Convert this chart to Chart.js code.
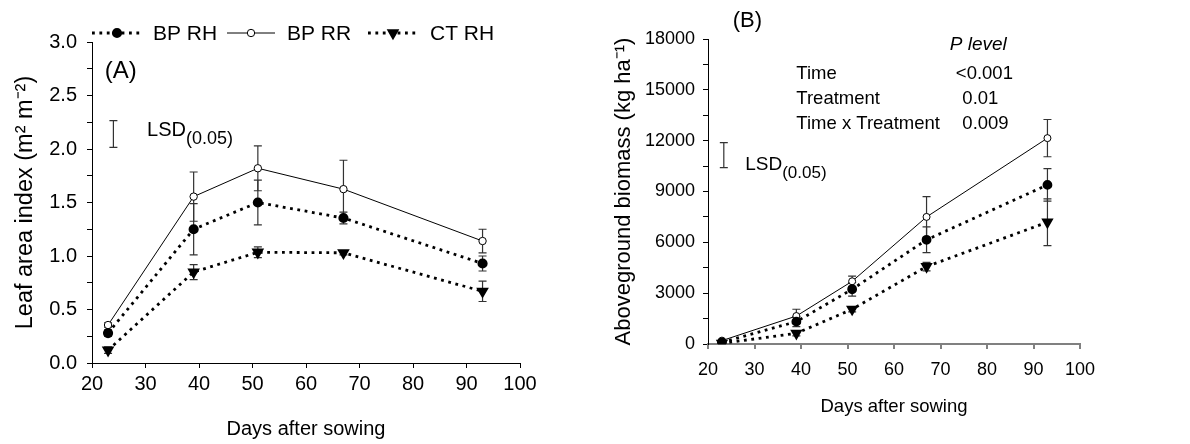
<!DOCTYPE html>
<html>
<head>
<meta charset="utf-8">
<script src="https://cdn.jsdelivr.net/npm/chart.js@4.4.1/dist/chart.umd.min.js"></script>
<style>
html, body { margin: 0; padding: 0; background: #fff; }
#wrap { position: relative; width: 1190px; height: 444px; overflow: hidden; }
#cA { position: absolute; left: 0; top: 0; }
#cB { position: absolute; left: 580px; top: 0; }
</style>
</head>
<body>
<div id="wrap">
  <canvas id="cA" width="575" height="444"></canvas>
  <canvas id="cB" width="610" height="444"></canvas>
</div>
<script>
// data
const days = [23, 39, 51, 67, 93];
const seriesNames = ['BP RH', 'BP RR', 'CT RH'];

// (A) leaf area index
const laiBPRH = [0.28, 1.25, 1.50, 1.355, 0.93];
const laiBPRHErr = [0.03, 0.24, 0.21, 0.055, 0.07];
const laiBPRR = [0.355, 1.555, 1.82, 1.625, 1.14];
const laiBPRRErr = [0.02, 0.23, 0.21, 0.27, 0.11];
const laiCTRH = [0.12, 0.85, 1.035, 1.03, 0.67];
const laiCTRHErr = [0.03, 0.07, 0.05, 0.02, 0.095];
const laiLSD = { day: 24, mid: 2.14, half: 0.125 };

// (B) aboveground biomass
const bioBPRH = [100, 1320, 3230, 6150, 9390];
const bioBPRHErr = [80, 300, 400, 760, 960];
const bioBPRR = [200, 1650, 3700, 7500, 12150];
const bioBPRRErr = [60, 400, 300, 1200, 1100];
const bioCTRH = [40, 630, 2050, 4570, 7190];
const bioCTRHErr = [40, 150, 150, 250, 1380];
const bioLSD = { day: 23.4, mid: 11150, half: 740 };

const pLabels = ['Time', 'Treatment', 'Time x Treatment'];
const pValues = ['<0.001', '0.01', '0.009'];

const FONT = '"Liberation Sans", Arial, sans-serif';
const dotted = [2.8, 4.6];

function pts(vals) { return days.map((d, i) => ({ x: d, y: vals[i] })); }

function makeSets(a, aErr, b, bErr, c, cErr, r) {
    return [
        { label: seriesNames[0], data: pts(a), errors: aErr, borderColor: '#000', borderWidth: 2.8, borderDash: dotted,
          pointStyle: 'circle', pointRadius: r, pointBackgroundColor: '#000', pointBorderColor: '#000' },
        { label: seriesNames[1], data: pts(b), errors: bErr, borderColor: '#000', borderWidth: 1,
          pointStyle: 'circle', pointRadius: r, pointBackgroundColor: '#fff', pointBorderColor: '#000', pointBorderWidth: 1 },
        { label: seriesNames[2], data: pts(c), errors: cErr, borderColor: '#000', borderWidth: 2.8, borderDash: dotted,
          pointStyle: 'triangle', pointRotation: 180, pointRadius: r + 0.8, pointBackgroundColor: '#000', pointBorderColor: '#000' }
    ];
}

// error bars + LSD bar, drawn under the markers
const errorBars = {
    id: 'errorBars',
    beforeDatasetsDraw(chart) {
        const ctx = chart.ctx, ys = chart.scales.y, xs = chart.scales.x;
        const cap = (x, y1, y2) => {
            ctx.beginPath();
            ctx.moveTo(x, y1); ctx.lineTo(x, y2);
            ctx.moveTo(x - 4, y1); ctx.lineTo(x + 4, y1);
            ctx.moveTo(x - 4, y2); ctx.lineTo(x + 4, y2);
            ctx.stroke();
        };
        ctx.save();
        ctx.strokeStyle = '#333';
        ctx.lineWidth = 1.2;
        chart.data.datasets.forEach((ds, di) => {
            const meta = chart.getDatasetMeta(di);
            ds.data.forEach((p, i) => {
                const e = ds.errors[i];
                cap(meta.data[i].x, ys.getPixelForValue(p.y + e), ys.getPixelForValue(p.y - e));
            });
        });
        const lsd = chart.options.plugins.errorBars.lsd;
        cap(xs.getPixelForValue(lsd.day), ys.getPixelForValue(lsd.mid + lsd.half), ys.getPixelForValue(lsd.mid - lsd.half));
        ctx.restore();
    }
};

// free text placed in data coordinates
const notes = {
    id: 'notes',
    afterDraw(chart) {
        const ctx = chart.ctx, xs = chart.scales.x, ys = chart.scales.y;
        ctx.save();
        ctx.fillStyle = '#000';
        ctx.textBaseline = 'middle';
        ctx.textAlign = 'left';
        chart.options.plugins.notes.items.forEach(n => {
            const x = xs.getPixelForValue(n.x), y = ys.getPixelForValue(n.y);
            ctx.font = (n.italic ? 'italic ' : '') + n.size + 'px ' + FONT;
            ctx.fillText(n.text, x, y);
            if (n.sub) {
                const w = ctx.measureText(n.text).width;
                ctx.font = n.subSize + 'px ' + FONT;
                ctx.fillText(n.sub, x + w, y + n.subDy);
            }
        });
        ctx.restore();
    }
};

// legend above panel A: line sample with marker
const lineLegend = {
    id: 'lineLegend',
    afterDraw(chart) {
        const ctx = chart.ctx, L = chart.chartArea.left, y = chart.chartArea.top - 9;
        const slots = [[0, 50, 25, 61], [135, 183, 159, 195], [276, 326, 301, 338]];
        ctx.save();
        chart.data.datasets.forEach((ds, i) => {
            const s = slots[i];
            ctx.strokeStyle = '#000';
            ctx.lineWidth = ds.borderWidth;
            ctx.setLineDash(ds.borderDash || []);
            ctx.beginPath();
            ctx.moveTo(L + s[0], y); ctx.lineTo(L + s[1], y);
            ctx.stroke();
            ctx.setLineDash([]);
            ctx.fillStyle = ds.pointBackgroundColor;
            ctx.strokeStyle = ds.pointBorderColor;
            Chart.helpers.drawPoint(ctx, {
                pointStyle: ds.pointStyle, radius: ds.pointRadius, rotation: ds.pointRotation || 0,
                borderWidth: ds.pointBorderWidth || 1
            }, L + s[2], y);
            ctx.fillStyle = '#000';
            ctx.font = '21px ' + FONT;
            ctx.textBaseline = 'middle';
            ctx.fillText(ds.label, L + s[3], y + 1);
        });
        ctx.restore();
    }
};

function axes(cfg) {
    const major = v => Math.abs(v / cfg.major - Math.round(v / cfg.major)) < 1e-9;
    return {
        x: {
            type: 'linear', min: 20, max: 100,
            ticks: { stepSize: 10, autoSkip: false, maxRotation: 0, color: '#000', padding: cfg.xPad,
                     font: { family: FONT, size: cfg.tickSize } },
            grid: { drawOnChartArea: false, drawTicks: true, tickLength: 5, color: cfg.xColor, lineWidth: cfg.xWidth },
            border: { display: true, color: cfg.xColor, width: cfg.xWidth },
            title: { display: true, text: 'Days after sowing', color: '#000',
                     font: { family: FONT, size: cfg.titleSize }, padding: { top: 0, bottom: cfg.xTitlePad } },
            afterFit: s => { s.height = cfg.xHeight; }
        },
        y: {
            min: 0, max: cfg.yMax,
            ticks: { stepSize: cfg.minor, autoSkip: false, color: '#000', padding: cfg.yPad,
                     font: { family: FONT, size: cfg.tickSize },
                     callback: v => major(v) ? cfg.fmt(v) : '' },
            grid: { drawOnChartArea: false, drawTicks: true, tickLength: 5, color: '#000' },
            border: { display: true, color: '#000', width: 1 },
            title: { display: true, text: cfg.yTitle, color: '#000',
                     font: { family: FONT, size: cfg.yTitleSize }, padding: { top: cfg.yTitlePad, bottom: 0 } },
            afterFit: s => { s.width = cfg.yWidth; }
        }
    };
}

Chart.defaults.font.family = FONT;

new Chart(document.getElementById('cA'), {
    type: 'line',
    data: { datasets: makeSets(laiBPRH, laiBPRHErr, laiBPRR, laiBPRRErr, laiCTRH, laiCTRHErr, 3.7) },
    options: {
        responsive: false, animation: false, devicePixelRatio: 1,
        layout: { padding: { left: 0, right: 55, top: 42, bottom: 0 } },
        plugins: {
            legend: { display: false }, tooltip: { enabled: false },
            errorBars: { lsd: laiLSD },
            notes: { items: [
                { text: '(A)', x: 22.4, y: 2.727, size: 24 },
                { text: 'LSD', x: 30.3, y: 2.17, size: 20, sub: '(0.05)', subSize: 18, subDy: 8 }
            ] }
        },
        scales: axes({ major: 0.5, minor: 0.25, yMax: 3, fmt: v => v.toFixed(1), tickSize: 20, titleSize: 20,
                       xPad: 4, yPad: 10, xHeight: 81, yWidth: 92, xTitlePad: 3, yTitlePad: 11, yTitleSize: 23.5,
                       xColor: '#000', xWidth: 1, yTitle: 'Leaf area index (m² m⁻²)' })
    },
    plugins: [errorBars, notes, lineLegend]
});

const pItems = [{ text: 'P level', x: 72.0, y: 17690, size: 19, italic: true }];
pLabels.forEach((t, i) => pItems.push({ text: t, x: 39.0, y: 15920 - i * 1460, size: 18.5 }));
pValues.forEach((t, i) => pItems.push({ text: t, x: i === 0 ? 73.3 : 74.7, y: 15920 - i * 1460, size: 18.5 }));
pItems.push({ text: '(B)', x: 25.3, y: 19060, size: 22 });
pItems.push({ text: 'LSD', x: 28.0, y: 10560, size: 19, sub: '(0.05)', subSize: 17, subDy: 8 });

new Chart(document.getElementById('cB'), {
    type: 'line',
    data: { datasets: makeSets(bioBPRH, bioBPRHErr, bioBPRR, bioBPRRErr, bioCTRH, bioCTRHErr, 3.5) },
    options: {
        responsive: false, animation: false, devicePixelRatio: 1,
        layout: { padding: { left: 0, right: 110, top: 39, bottom: 0 } },
        plugins: {
            legend: { display: false }, tooltip: { enabled: false },
            errorBars: { lsd: bioLSD },
            notes: { items: pItems }
        },
        scales: axes({ major: 3000, minor: 1500, yMax: 18000, fmt: v => String(v), tickSize: 18, titleSize: 18.5,
                       xPad: 10, yPad: 8, xHeight: 100, yWidth: 128, xTitlePad: 26, yTitlePad: 31, yTitleSize: 22,
                       xColor: '#808080', xWidth: 2, yTitle: 'Aboveground biomass (kg ha⁻¹)' })
    },
    plugins: [errorBars, notes]
});
</script>
</body>
</html>
